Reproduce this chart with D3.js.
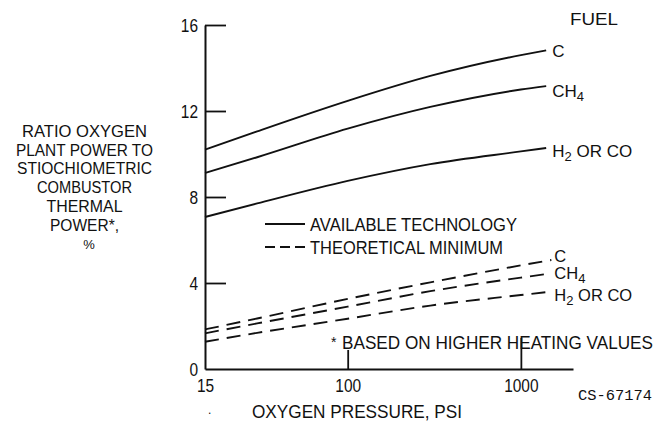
<!DOCTYPE html>
<html>
<head>
<meta charset="utf-8">
<script src="https://cdn.jsdelivr.net/npm/d3@7"></script>
<style>
  body { margin: 0; background: #fff; }
  text { font-family: "Liberation Sans", Arial, sans-serif; fill: #111; }
</style>
</head>
<body>
<div id="canvas"></div>
<script>
// pressure points (psi)
var pressSolid = [15, 30, 100, 300, 1000, 1400];
var pressDash = [15, 30, 100, 300, 1000, 1500];

// available technology (solid)
var solidC   = [10.2, 11.05, 12.47, 13.63, 14.6, 14.82];
var solidCH4 = [9.12, 9.85, 11.18, 12.19, 13.0, 13.16];
var solidH2  = [7.07, 7.7, 8.75, 9.53, 10.12, 10.28];

// theoretical minimum (dashed)
var dashC   = [1.84, 2.35, 3.26, 4.03, 4.82, 5.07];
var dashCH4 = [1.66, 2.12, 2.9, 3.62, 4.25, 4.45];
var dashH2  = [1.27, 1.68, 2.34, 2.95, 3.44, 3.6];

var yTicks = [0, 4, 8, 12, 16];
var xTicks = [15, 100, 1000];

var yTitle = ["RATIO OXYGEN", "PLANT POWER TO", "STIOCHIOMETRIC", "COMBUSTOR", "THERMAL", "POWER*,"];
var yTitleWidths = [125, 137, 135, 95, 76, 69];

var width = 660, height = 424;
var digitW = 8.6; // condensed digit width

var svg = d3.select("#canvas").append("svg")
    .attr("width", width)
    .attr("height", height);

var x = d3.scaleLog().domain([15, 2000]).range([205, 573]);
var y = d3.scaleLinear().domain([0, 16]).range([369, 25]);

function squeeze(sel) {
    sel.attr("textLength", function (d) { return String(d).length * digitW; })
        .attr("lengthAdjust", "spacingAndGlyphs");
}

// axes
var yAxis = svg.append("g")
    .attr("transform", "translate(205,0)")
    .call(d3.axisLeft(y).tickValues(yTicks).tickSizeInner(-21).tickSizeOuter(0).tickPadding(7));
yAxis.selectAll("text").attr("font-size", "19px").attr("dy", "0.36em")
    .style("font-family", "Liberation Sans, Arial, sans-serif").call(squeeze);
yAxis.selectAll("line").attr("stroke-width", 1.8);
yAxis.select(".domain").attr("stroke-width", 2);
yAxis.selectAll(".tick").filter(function (d) { return d === 0; }).select("line").remove();

var xAxis = svg.append("g")
    .attr("transform", "translate(0,369)")
    .call(d3.axisBottom(x).tickValues(xTicks).tickFormat(d3.format("d"))
        .tickSizeInner(-19).tickSizeOuter(0).tickPadding(10));
xAxis.selectAll("text").attr("font-size", "19px")
    .style("font-family", "Liberation Sans, Arial, sans-serif").call(squeeze);
xAxis.selectAll("line").attr("stroke-width", 1.8);
xAxis.select(".domain").attr("stroke-width", 2);
xAxis.selectAll(".tick").filter(function (d) { return d === 15; }).select("line").remove();
xAxis.selectAll(".tick").filter(function (d) { return d === 1000; }).select("line").attr("y2", -31);

svg.selectAll(".domain, .tick line").attr("stroke", "#111");

// curves
var line = d3.line()
    .x(function (d) { return x(d[0]); })
    .y(function (d) { return y(d[1]); })
    .curve(d3.curveMonotoneX);

var series = [
    { name: "C", press: pressSolid, vals: solidC, dash: null, dy: 6.5 },
    { name: "CH4", press: pressSolid, vals: solidCH4, dash: null, dy: 11 },
    { name: "H2", press: pressSolid, vals: solidH2, dash: null, dy: 9 },
    { name: "C", press: pressDash, vals: dashC, dash: "14,8", dy: 2 },
    { name: "CH4", press: pressDash, vals: dashCH4, dash: "14,8", dy: 6 },
    { name: "H2", press: pressDash, vals: dashH2, dash: "14,8", dy: 9 }
];

series.forEach(function (s) {
    var pts = s.press.map(function (p, i) { return [p, s.vals[i]]; });
    svg.append("path")
        .datum(pts)
        .attr("d", line)
        .attr("fill", "none")
        .attr("stroke", "#111")
        .attr("stroke-width", 1.9)
        .attr("stroke-dasharray", s.dash);

    var last = pts[pts.length - 1];
    var t = svg.append("text")
        .attr("x", x(last[0]) + (s.dash ? 3 : 6))
        .attr("y", y(last[1]) + s.dy)
        .attr("font-size", s.dash ? "16.5px" : "17px");
    if (s.name === "C") {
        t.text("C");
    } else if (s.name === "CH4") {
        t.append("tspan").text("CH");
        t.append("tspan").attr("font-size", "13px").attr("dy", 4).text("4");
    } else {
        t.append("tspan").text("H");
        t.append("tspan").attr("font-size", "13px").attr("dy", 4).text("2");
        t.append("tspan").attr("dy", -4).text(s.dash ? "  OR CO" : " OR CO");
    }
});

// fuel header
svg.append("text").attr("x", 570).attr("y", 25).attr("font-size", "16.5px")
    .attr("textLength", 48).attr("lengthAdjust", "spacingAndGlyphs").text("FUEL");

// legend
var legend = [
    { label: "AVAILABLE TECHNOLOGY", dash: null, w: 207 },
    { label: "THEORETICAL MINIMUM", dash: "10,5", w: 193 }
];
legend.forEach(function (d, i) {
    var ly = 224 + i * 23;
    svg.append("line")
        .attr("x1", 265).attr("x2", 305).attr("y1", ly).attr("y2", ly)
        .attr("stroke", "#111").attr("stroke-width", 1.8)
        .attr("stroke-dasharray", d.dash);
    svg.append("text").attr("x", 310).attr("y", ly + 6.5)
        .attr("font-size", "17.5px")
        .attr("textLength", d.w).attr("lengthAdjust", "spacingAndGlyphs")
        .text(d.label);
});

// y title
svg.selectAll(".ytitle")
    .data(yTitle).enter()
    .append("text")
    .attr("class", "ytitle")
    .attr("x", 84.5)
    .attr("y", function (d, i) { return 137 + i * 18.7; })
    .attr("text-anchor", "middle")
    .attr("font-size", "16px")
    .attr("textLength", function (d, i) { return yTitleWidths[i]; })
    .attr("lengthAdjust", "spacingAndGlyphs")
    .text(function (d) { return d; });
svg.append("text").attr("x", 89).attr("y", 249).attr("text-anchor", "middle")
    .attr("font-size", "13px").text("%");

// x title
svg.append("text").attr("x", 252).attr("y", 418).attr("font-size", "18.5px")
    .attr("textLength", 210).attr("lengthAdjust", "spacingAndGlyphs")
    .text("OXYGEN PRESSURE, PSI");
svg.append("text").attr("x", 208).attr("y", 414).attr("font-size", "12px").text(".");

// footnote
svg.append("text").attr("x", 331).attr("y", 347).attr("font-size", "14px").text("*");
svg.append("text").attr("x", 342).attr("y", 349).attr("font-size", "18.5px")
    .attr("textLength", 311).attr("lengthAdjust", "spacingAndGlyphs")
    .text("BASED ON HIGHER HEATING VALUES");

// figure id
svg.append("text").attr("x", 578).attr("y", 400).attr("font-size", "14px")
    .style("font-family", "Liberation Mono, DejaVu Sans Mono, monospace")
    .attr("textLength", 74).attr("lengthAdjust", "spacingAndGlyphs")
    .text("CS-67174");
</script>
</body>
</html>
